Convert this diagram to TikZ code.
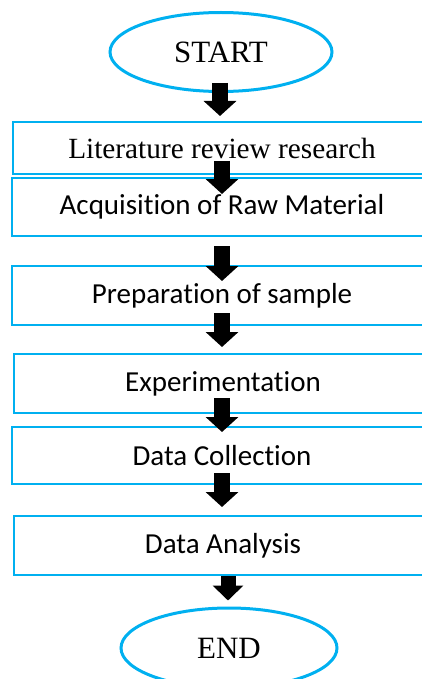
\documentclass[tikz,border=0pt]{standalone}
\usepackage{fontspec}
\setmainfont{Liberation Serif}
\newfontfamily\boxfont[RawFeature={-liga;-clig;-calt;-rlig}]{Carlito}
\usetikzlibrary{shapes.geometric,arrows.meta,calc}
\definecolor{flowblue}{RGB}{0,176,240}

\begin{document}
\begin{tikzpicture}[x=1pt,y=-1pt,
	oval/.style={ellipse,draw=flowblue,line width=3pt,inner sep=0pt,font=\fontsize{31}{34}\selectfont},
	stage/.style={rectangle,draw=flowblue,line width=2pt,minimum width=418pt,inner sep=0pt,font=\boxfont\fontsize{29}{32}\selectfont},
	blk/.style={line width=16pt,-{Triangle[width=32pt,length=15pt]}}]
		\useasboundingbox (0,0) rectangle (422,679);
		\clip (0,0) rectangle (422,679);
		\node[oval,minimum width=222pt,minimum height=79pt] (start) at (221,52) {START};
		\node[stage,minimum height=52pt,font=\fontsize{29.3}{32}\selectfont] (lit) at (222,148) {Literature review research};
		\node[stage,minimum height=58pt,minimum width=420pt] (acq) at (222,207) {Acquisition of Raw Material};
		\node[stage,minimum height=59pt,minimum width=420pt] (prep) at (222,295.5) {Preparation of sample};
		\node[stage,minimum height=59pt] (exp) at (223,383.5) {Experimentation};
		\node[stage,minimum height=57pt,minimum width=420pt] (col) at (222,455.5) {Data Collection};
		\node[stage,minimum height=59pt] (ana) at (223,545.5) {Data Analysis};
		\node[oval,minimum width=216pt,minimum height=80pt] (end) at (229,648) {END};
		%arrows
		\draw[blk] ($(start.south)+(-1,-10)$) -- ($(lit.north)+(-2,-5)$);
		\draw[blk] ($(lit.south)+(0,-14)$) -- ($(acq.north)+(0,17)$);
		\draw[blk] ($(acq.south)+(0,9)$) -- ($(prep.north)+(0,16)$);
		\draw[blk] ($(prep.south)+(0,-13)$) -- ($(exp.north)+(-1,-6)$);
		\draw[blk] ($(exp.south)+(-1,-16)$) -- ($(col.north)+(0,6)$);
		\draw[blk] ($(col.south)+(0,-12)$) -- ($(ana.north)+(-1,-8)$);
		\draw[blk,line width=15pt,-{Triangle[width=30pt,length=15pt]}] ($(ana.south)+(5,0)$) -- ($(end.north)+(-1,-6)$);
\end{tikzpicture}
\end{document}
